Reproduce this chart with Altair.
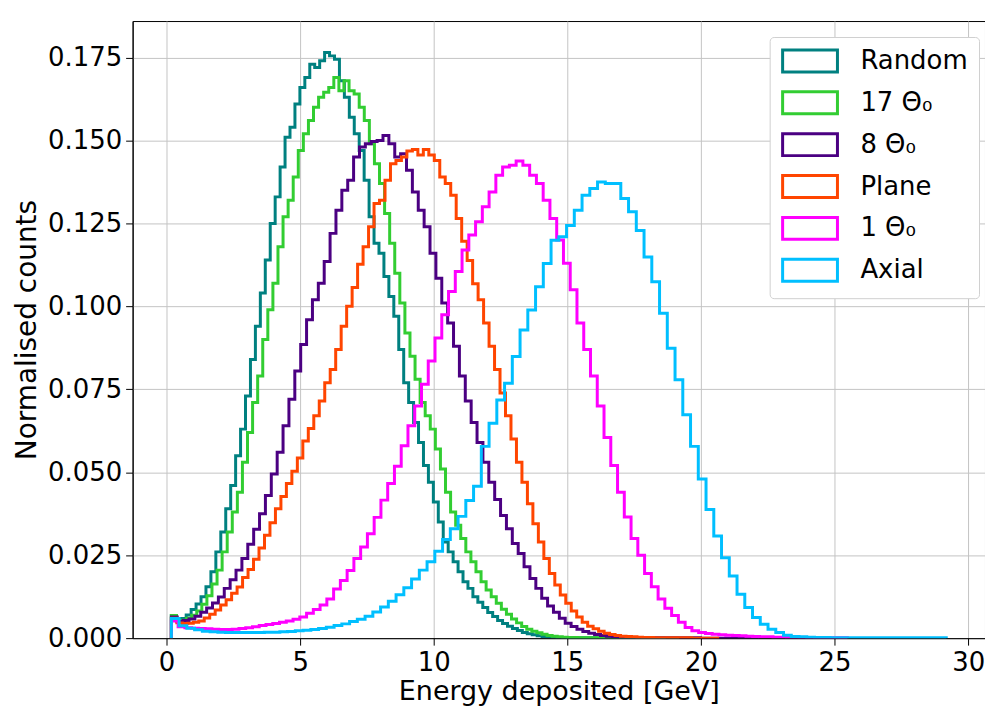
import altair as alt
import pandas as pd

series = ["Random", "17 Θ₀", "8 Θ₀", "Plane", "1 Θ₀", "Axial"]
colors = ["#008080", "#32cd32", "#4b0082", "#ff4500", "#ff00ff", "#00bfff"]
bin_start = [0.18, 0.18, 0.18, 0.18, 0.18, 0.18]
bin_width = [0.185, 0.19, 0.22, 0.205, 0.253, 0.29]

random_counts = [
    0.0068, 0.0055, 0.0059, 0.0070, 0.0086, 0.0103, 0.0125, 0.0155, 0.0200, 0.0260,
    0.0320, 0.0390, 0.0460, 0.0550, 0.0630, 0.0730, 0.0840, 0.0940, 0.1040, 0.1140,
    0.1250, 0.1330, 0.1420, 0.1510, 0.1540, 0.1610, 0.1660, 0.1690, 0.1730, 0.1720,
    0.1740, 0.1765, 0.1755, 0.1745, 0.1680, 0.1630, 0.1570, 0.1520, 0.1470, 0.1380,
    0.1270, 0.1190, 0.1160, 0.1090, 0.1030, 0.0970, 0.0870, 0.0770, 0.0710, 0.0650,
    0.0590, 0.0520, 0.0470, 0.0410, 0.0350, 0.0290, 0.0260, 0.0230, 0.0200, 0.0170,
    0.0150, 0.0125, 0.0108, 0.0092, 0.0077, 0.0065, 0.0053, 0.0044, 0.0036, 0.0029,
    0.0023, 0.0017, 0.0013, 0.0010, 0.0007, 0.0005, 0.0004, 0.0003, 0.0002, 0.0002,
    0.0001, 0.0001, 0.0001, 0.0001, 0.0001, 0.0001, 0.0001, 0.0001, 0.0001, 0.0001,
    0.0, 0.0, 0.0, 0.0, 0.0, 0.0, 0.0, 0.0, 0.0, 0.0,
]

theta17_counts = [
    0.0068, 0.0052, 0.0054, 0.0060, 0.0069, 0.0082, 0.0102, 0.0128, 0.0163, 0.0205,
    0.0260, 0.0320, 0.0380, 0.0440, 0.0530, 0.0620, 0.0710, 0.0790, 0.0900, 0.0990,
    0.1070, 0.1180, 0.1270, 0.1320, 0.1390, 0.1470, 0.1520, 0.1560, 0.1600, 0.1630,
    0.1645, 0.1660, 0.1690, 0.1650, 0.1680, 0.1650, 0.1640, 0.1600, 0.1560, 0.1490,
    0.1430, 0.1370, 0.1280, 0.1190, 0.1100, 0.1010, 0.0920, 0.0850, 0.0780, 0.0710,
    0.0670, 0.0630, 0.0570, 0.0510, 0.0440, 0.0380, 0.0340, 0.0300, 0.0260, 0.0230,
    0.0200, 0.0170, 0.0145, 0.0125, 0.0105, 0.0087, 0.0072, 0.0058, 0.0046, 0.0035,
    0.0027, 0.0021, 0.0016, 0.0012, 0.0008, 0.0006, 0.0004, 0.0003, 0.0002, 0.0002,
    0.0001, 0.0001, 0.0001, 0.0001, 0.0001, 0.0001, 0.0001, 0.0001, 0.0001, 0.0001,
    0.0, 0.0, 0.0, 0.0, 0.0, 0.0, 0.0, 0.0, 0.0, 0.0,
]

theta8_counts = [
    0.0064, 0.0050, 0.0053, 0.0058, 0.0066, 0.0078, 0.0091, 0.0106, 0.0124, 0.0150,
    0.0176, 0.0205, 0.0240, 0.0283, 0.0328, 0.0375, 0.0430, 0.0495, 0.0560, 0.0640,
    0.0720, 0.0805, 0.0885, 0.0960, 0.1020, 0.1070, 0.1135, 0.1220, 0.1290, 0.1350,
    0.1380, 0.1450, 0.1480, 0.1490, 0.1497, 0.1500, 0.1515, 0.1490, 0.1450, 0.1460,
    0.1410, 0.1345, 0.1290, 0.1240, 0.1160, 0.1085, 0.1010, 0.0950, 0.0880, 0.0790,
    0.0715, 0.0650, 0.0590, 0.0530, 0.0470, 0.0418, 0.0370, 0.0330, 0.0285, 0.0255,
    0.0215, 0.0180, 0.0150, 0.0120, 0.0097, 0.0078, 0.0060, 0.0045, 0.0035, 0.0027,
    0.0020, 0.0015, 0.0011, 0.0008, 0.0006, 0.0004, 0.0003, 0.0002, 0.0002, 0.0001,
    0.0001, 0.0001, 0.0001, 0.0001, 0.0001, 0.0001, 0.0001, 0.0001, 0.0001, 0.0001,
    0.0, 0.0, 0.0, 0.0, 0.0, 0.0, 0.0, 0.0, 0.0, 0.0,
]

plane_counts = [
    0.0060, 0.0046, 0.0044, 0.0045, 0.0048, 0.0052, 0.0061, 0.0072, 0.0085, 0.0100,
    0.0116, 0.0135, 0.0154, 0.0183, 0.0207, 0.0238, 0.0272, 0.0310, 0.0348, 0.0390,
    0.0427, 0.0466, 0.0503, 0.0543, 0.0594, 0.0632, 0.0670, 0.0715, 0.0770, 0.0810,
    0.0870, 0.0940, 0.1000, 0.1057, 0.1127, 0.1180, 0.1240, 0.1310, 0.1320, 0.1380,
    0.1430, 0.1440, 0.1450, 0.1468, 0.1473, 0.1456, 0.1473, 0.1456, 0.1440, 0.1390,
    0.1370, 0.1335, 0.1265, 0.1196, 0.1138, 0.1068, 0.1020, 0.0950, 0.0880, 0.0810,
    0.0739, 0.0670, 0.0600, 0.0530, 0.0470, 0.0405, 0.0345, 0.0290, 0.0240, 0.0195,
    0.0160, 0.0130, 0.0105, 0.0082, 0.0064, 0.0048, 0.0036, 0.0028, 0.0021, 0.0015,
    0.0011, 0.0008, 0.0006, 0.0005, 0.0004, 0.0003, 0.0002, 0.0002, 0.0001, 0.0001,
    0.0001, 0.0001, 0.0001, 0.0001, 0.0001, 0.0, 0.0, 0.0, 0.0, 0.0,
]

theta1_counts = [
    0.0052, 0.0034, 0.0031, 0.0030, 0.0029, 0.0028, 0.0027, 0.0026, 0.0026, 0.0027,
    0.0029, 0.0031, 0.0034, 0.0038, 0.0041, 0.0044, 0.0048, 0.0052, 0.0057, 0.0064,
    0.0075, 0.0086, 0.0100, 0.0118, 0.0148, 0.0174, 0.0204, 0.0240, 0.0275, 0.0315,
    0.0364, 0.0416, 0.0466, 0.0518, 0.0580, 0.0640, 0.0700, 0.0765, 0.0835, 0.0905,
    0.0975, 0.1045, 0.1105, 0.1170, 0.1215, 0.1255, 0.1300, 0.1345, 0.1395, 0.1420,
    0.1425, 0.1438, 0.1425, 0.1395, 0.1370, 0.1320, 0.1265, 0.1200, 0.1130, 0.1050,
    0.0950, 0.0870, 0.0790, 0.0700, 0.0605, 0.0520, 0.0440, 0.0365, 0.0300, 0.0250,
    0.0195, 0.0155, 0.0118, 0.0090, 0.0068, 0.0048, 0.0032, 0.0022, 0.0017, 0.0014,
    0.0012, 0.0010, 0.0009, 0.0008, 0.0007, 0.0006, 0.0005, 0.0004, 0.0004, 0.0003,
    0.0003, 0.0002, 0.0002, 0.0001, 0.0001, 0.0001, 0.0001, 0.0001, 0.0001, 0.0001,
]

axial_counts = [
    0.0059, 0.0037, 0.0030, 0.0025, 0.0021, 0.0019, 0.0018, 0.0017, 0.0017, 0.0017,
    0.0017, 0.0017, 0.0018, 0.0018, 0.0019, 0.0020, 0.0022, 0.0024, 0.0026, 0.0029,
    0.0033, 0.0038, 0.0043, 0.0050, 0.0057, 0.0066, 0.0079, 0.0094, 0.0111, 0.0131,
    0.0152, 0.0178, 0.0205, 0.0230, 0.0262, 0.0297, 0.0330, 0.0367, 0.0415, 0.0458,
    0.0578, 0.0648, 0.0718, 0.0768, 0.0849, 0.0929, 0.0989, 0.1059, 0.1129, 0.1199,
    0.1210, 0.1244, 0.1290, 0.1335, 0.1355, 0.1375, 0.1370, 0.1370, 0.1325, 0.1285,
    0.1229, 0.1149, 0.1074, 0.0979, 0.0874, 0.0779, 0.0673, 0.0578, 0.0480, 0.0388,
    0.0308, 0.0242, 0.0187, 0.0132, 0.0092, 0.0062, 0.0042, 0.0027, 0.0017, 0.0009,
    0.0005, 0.0004, 0.0003, 0.0002, 0.0002, 0.0001, 0.0001, 0.0001, 0.0001, 0.0001,
    0.0001, 0.0001, 0.0001, 0.0001, 0.0001, 0.0001, 0.0001, 0.0001, 0.0001, 0.0001,
]

x_ticks = [0, 5, 10, 15, 20, 25, 30]
y_ticks = [0.0, 0.025, 0.05, 0.075, 0.1, 0.125, 0.15, 0.175]

all_counts = [random_counts, theta17_counts, theta8_counts,
              plane_counts, theta1_counts, axial_counts]

rows = []
for name, start, width, counts in zip(series, bin_start, bin_width, all_counts):
    n = len(counts)
    k = 0
    rows.append({"series": name, "x": start, "y": 0.0, "idx": k})
    for i, v in enumerate(counts):
        k += 1
        rows.append({"series": name, "x": start + width * i, "y": v, "idx": k})
    k += 1
    rows.append({"series": name, "x": start + width * n, "y": counts[-1], "idx": k})
    k += 1
    rows.append({"series": name, "x": start + width * n, "y": 0.0, "idx": k})

df = pd.DataFrame(rows)

FONT = "DejaVu Sans"
FS = 26

chart = alt.Chart(df).mark_line(
    interpolate="step-after", strokeWidth=3, clip=True
).encode(
    x=alt.X(
        "x:Q",
        scale=alt.Scale(domain=[-1.27, 30.63], nice=False, zero=False),
        axis=alt.Axis(values=x_ticks, format="d", title="Energy deposited [GeV]",
                      titlePadding=4, titleFontSize=27),
    ),
    y=alt.Y(
        "y:Q",
        scale=alt.Scale(domain=[0, 0.186], nice=False),
        axis=alt.Axis(values=y_ticks, format=".3f", title="Normalised counts",
                      titlePadding=6, titleFontSize=28),
    ),
    color=alt.Color(
        "series:N",
        scale=alt.Scale(domain=series, range=colors),
        legend=alt.Legend(
            title=None, orient="none", legendX=639, legendY=16,
            symbolType="M-1,-1L4,-1L4,1L-1,1Z", symbolSize=484,
            symbolStrokeWidth=3, symbolFillColor="white",
            labelFontSize=FS, labelFont=FONT, labelColor="black",
            labelOffset=54, rowPadding=8, padding=11,
            strokeColor="#d0d0d0", fillColor="white", cornerRadius=4,
            labelLimit=300,
        ),
    ),
    order=alt.Order("idx:Q"),
).properties(
    width=855, height=619,
    autosize=alt.AutoSizeParams(type="none"),
    padding={"left": 125, "top": 12, "right": 0, "bottom": 70},
).configure_view(
    stroke="black", strokeWidth=1
).configure_axis(
    labelFont=FONT, titleFont=FONT, labelFontSize=FS, titleFontSize=FS,
    labelColor="black", titleColor="black", titleFontWeight="normal",
    domainColor="black", tickColor="black", tickSize=7, labelPadding=4,
    gridColor="#c4c4c4", gridWidth=1,
)

chart.save("out.html", embed_options={"renderer": "svg", "actions": False})
